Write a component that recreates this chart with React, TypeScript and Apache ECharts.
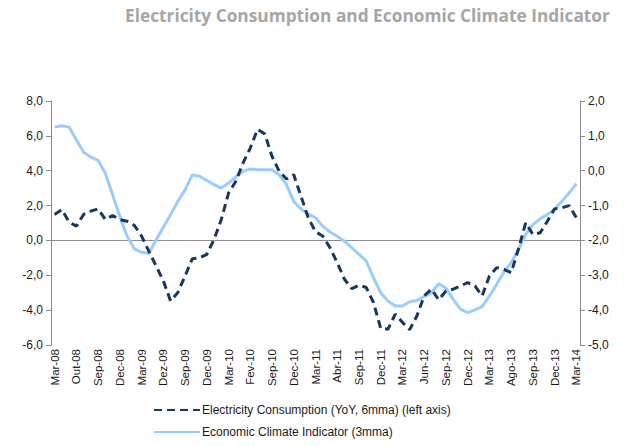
import React, { useEffect, useRef } from "react";
import * as echarts from "echarts";

const MONTHS = ["Jan", "Feb", "Mar", "Apr", "May", "Jun", "Jul", "Aug", "Sep", "Oct", "Nov", "Dec"];
const categories: string[] = [];
for (let y = 2008; y <= 2014; y++) {
  for (let m = 0; m < 12; m++) {
    if ((y === 2008 && m < 2) || (y === 2014 && m > 2)) continue;
    categories.push(MONTHS[m] + "-" + String(y).slice(2));
  }
}

const tickLabels = [
  "Mar-08", "Out-08", "Sep-08", "Dec-08", "Mar-09", "Dez-09", "Sep-09", "Dec-09", "Mar-10",
  "Fev-10", "Sep-10", "Dec-10", "Mar-11", "Abr-11", "Sep-11", "Dec-11", "Mar-12", "Jun-12",
  "Sep-12", "Dec-12", "Mar-13", "Ago-13", "Sep-13", "Dec-13", "Mar-14",
];

const electricity = [
  1.49, 1.77, 1.05, 0.82, 1.49, 1.68, 1.81, 1.2, 1.43, 1.2,
  1.1, 0.86, 0.25, -0.61, -1.47, -2.32, -3.47, -2.99, -2.04, -1.05,
  -1.0, -0.8, 0.06, 1.2, 2.72, 3.39, 4.44, 5.3, 6.38, 6.11,
  4.82, 3.96, 3.52, 3.77, 2.53, 1.3, 0.5, 0.25, -0.42, -1.28,
  -2.23, -2.76, -2.57, -2.7, -3.56, -5.05, -5.09, -4.23, -4.7, -5.12,
  -4.32, -3.18, -2.8, -3.41, -2.9, -2.8, -2.61, -2.42, -2.61, -3.18,
  -2.04, -1.56, -1.66, -1.85, -0.51, 1.01, 0.34, 0.44, 1.1, 1.81,
  1.87, 2.0, 1.3,
];

const climate = [
  1.25, 1.29, 1.25, 0.89, 0.53, 0.39, 0.3, -0.07, -0.69, -1.31,
  -1.88, -2.24, -2.34, -2.37, -1.99, -1.62, -1.26, -0.88, -0.55, -0.12,
  -0.16, -0.28, -0.4, -0.5, -0.35, -0.18, -0.02, 0.05, 0.03, 0.03,
  0.03, -0.12, -0.4, -0.88, -1.1, -1.24, -1.35, -1.59, -1.76, -1.88,
  -2.02, -2.21, -2.4, -2.59, -3.07, -3.5, -3.74, -3.88, -3.88, -3.76,
  -3.72, -3.61, -3.5, -3.24, -3.37, -3.69, -3.97, -4.07, -3.99, -3.9,
  -3.59, -3.26, -2.91, -2.64, -2.26, -1.83, -1.55, -1.38, -1.26, -1.1,
  -0.88, -0.64, -0.37,
];

const fmt = (v: number) => v.toFixed(1).replace(".", ",");

export default function App() {
  const ref = useRef<HTMLDivElement>(null);
  useEffect(() => {
    if (!ref.current) return;
    const chart = echarts.init(ref.current, null, { renderer: "svg" });
    const axisColor = "#8c8c8c";
    const labelFont = { fontFamily: "'Liberation Sans', Arial, sans-serif", fontSize: 12, color: "#1a1a1a" };
    chart.setOption({
      animation: false,
      backgroundColor: "#ffffff",
      title: {
        text: "Electricity Consumption and Economic Climate Indicator",
        left: 120,
        top: 2,
        textStyle: { fontFamily: "'Open Sans', sans-serif", fontWeight: "bold", fontSize: 17.3, color: "#a6a6a6" },
      },
      grid: { left: 51, right: 44, top: 101, bottom: 101, containLabel: false },
      legend: {
        orient: "vertical",
        left: 148,
        top: 399,
        itemWidth: 46,
        itemHeight: 14,
        itemGap: 10,
        itemStyle: { opacity: 0, borderWidth: 0 },
        textStyle: { fontFamily: "'Liberation Sans', Arial, sans-serif", fontSize: 12, color: "#1a1a1a", padding: [0, 0, 0, -3] },
        data: ["Electricity Consumption (YoY, 6mma) (left axis)", "Economic Climate Indicator (3mma)"],
      },
      xAxis: {
        type: "category",
        data: categories,
        boundaryGap: true,
        axisLine: { show: false },
        axisTick: { show: false },
        axisLabel: {
          ...labelFont,
          fontSize: 11.5,
          rotate: 90,
          interval: 2,
          margin: 4,
          formatter: (_v: string, i: number) => tickLabels[Math.round(i / 3)] ?? "",
        },
        splitLine: { show: false },
      },
      yAxis: [
        {
          type: "value",
          min: -6,
          max: 8,
          interval: 2,
          position: "left",
          axisLine: { show: true, lineStyle: { color: axisColor, width: 1 } },
          axisTick: { show: true, length: 5, lineStyle: { color: axisColor } },
          axisLabel: { ...labelFont, margin: 8, formatter: fmt },
          splitLine: { show: false },
        },
        {
          type: "value",
          min: -5,
          max: 2,
          interval: 1,
          position: "right",
          axisLine: { show: true, lineStyle: { color: axisColor, width: 1 } },
          axisTick: { show: true, length: 5, lineStyle: { color: axisColor } },
          axisLabel: { ...labelFont, margin: 8, formatter: fmt },
          splitLine: { show: false },
        },
      ],
      series: [
        {
          name: "Economic Climate Indicator (3mma)",
          type: "line",
          yAxisIndex: 1,
          data: climate,
          symbol: "none",
          lineStyle: { color: "#99ccff", width: 3 },
          itemStyle: { color: "#99ccff" },
          z: 2,
        },
        {
          name: "Electricity Consumption (YoY, 6mma) (left axis)",
          type: "line",
          yAxisIndex: 0,
          data: electricity,
          symbol: "none",
          lineStyle: { color: "#17375e", width: 3, type: [8, 5] },
          itemStyle: { color: "#17375e" },
          z: 3,
          markLine: {
            silent: true,
            symbol: "none",
            label: { show: false },
            lineStyle: { color: "#8c8c8c", width: 1, type: "solid" },
            data: [{ yAxis: 0 }],
            z: 1,
          },
        },
      ],
    });
    return () => chart.dispose();
  }, []);
  return <div ref={ref} style={{ position: "fixed", left: 0, top: 0, width: 624, height: 446 }} />;
}
